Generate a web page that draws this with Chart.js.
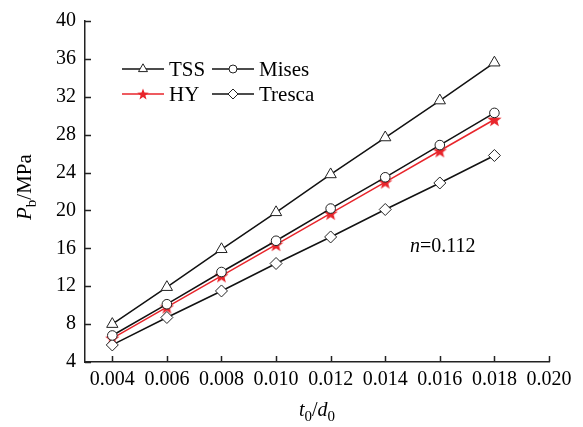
<!DOCTYPE html>
<html>
<head>
<meta charset="utf-8">
<script src="https://cdn.jsdelivr.net/npm/chart.js@4.4.0/dist/chart.umd.min.js"></script>
<style>
  html, body { margin: 0; padding: 0; background: #fff; }
  #wrap { width: 583px; height: 427px; position: relative; }
</style>
</head>
<body>
<div id="wrap"><canvas id="myChart" width="583" height="427"></canvas></div>
<script>
// data
const ratios = [0.004, 0.006, 0.008, 0.010, 0.012, 0.014, 0.016, 0.018];
const tss    = [8.0, 11.9, 15.9, 19.8, 23.8, 27.7, 31.6, 35.6];
const mises  = [6.8, 10.1, 13.5, 16.8, 20.2, 23.5, 26.9, 30.3];
const hy     = [6.5, 9.8, 13.1, 16.4, 19.7, 23.0, 26.3, 29.6];
const tresca = [5.8, 8.7, 11.5, 14.4, 17.2, 20.1, 22.9, 25.8];
const xTicks = [0.004, 0.006, 0.008, 0.010, 0.012, 0.014, 0.016, 0.018, 0.020];

const FONT = "'Liberation Serif', 'Times New Roman', serif";
const RED = '#e8252b';

// filled star marker for HY
function makeStar(size, color) {
  const c = document.createElement('canvas');
  c.width = size; c.height = size;
  const g = c.getContext('2d');
  const cx = size / 2, cy = size / 2 + 0.6;
  const ro = size / 2, ri = ro * 0.42;
  g.beginPath();
  for (let i = 0; i < 10; i++) {
    const r = i % 2 === 0 ? ro : ri;
    const a = -Math.PI / 2 + i * Math.PI / 5;
    g.lineTo(cx + r * Math.cos(a), cy + r * Math.sin(a));
  }
  g.closePath();
  g.fillStyle = color;
  g.fill();
  return c;
}
const starImg = makeStar(15, RED);
const starSmall = makeStar(12, RED);

function pts(ys) {
  return ratios.map((x, i) => ({ x: x, y: ys[i] }));
}

const datasets = [
  { label: 'TSS', data: pts(tss), borderColor: '#111', pointStyle: 'triangle', pointRadius: 6.5, legR: 5.2 },
  { label: 'Mises', data: pts(mises), borderColor: '#111', pointStyle: 'circle', pointRadius: 4.8, legR: 4 },
  { label: 'Tresca', data: pts(tresca), borderColor: '#111', pointStyle: 'rectRot', pointRadius: 6, legR: 5 },
  { label: 'HY', data: pts(hy), borderColor: RED, pointStyle: starImg, pointRadius: 7, legStyle: starSmall, legR: 6 }
].map(d => Object.assign({
  borderWidth: 1.5,
  backgroundColor: '#fff',
  pointBackgroundColor: '#fff',
  pointBorderColor: '#222',
  pointBorderWidth: 1,
  tension: 0,
  fill: false
}, d));

// inward tick marks
const innerTicks = {
  id: 'innerTicks',
  afterDraw(chart) {
    const ctx = chart.ctx, xs = chart.scales.x, ys = chart.scales.y;
    const a = chart.chartArea;
    ctx.save();
    ctx.strokeStyle = '#222';
    ctx.lineWidth = 1.5;
    ctx.beginPath();
    xTicks.forEach(v => {
      const px = Math.round(xs.getPixelForValue(v)) + 0.5;
      ctx.moveTo(px, a.bottom);
      ctx.lineTo(px, a.bottom - 6);
    });
    ys.ticks.forEach(t => {
      const py = Math.round(ys.getPixelForValue(t.value)) + 0.5;
      ctx.moveTo(a.left, py);
      ctx.lineTo(a.left + 6, py);
    });
    ctx.stroke();
    ctx.restore();
  }
};

// legend in 2x2 grid, axis titles and annotation
const extras = {
  id: 'extras',
  afterDraw(chart) {
    const ctx = chart.ctx;
    const H = Chart.helpers;
    ctx.save();
    const items = [
      { ds: 0, x: 122, y: 69 },
      { ds: 1, x: 212, y: 69 },
      { ds: 3, x: 122, y: 94 },
      { ds: 2, x: 212, y: 94 }
    ];
    items.forEach(it => {
      const d = chart.data.datasets[it.ds];
      ctx.strokeStyle = d.borderColor;
      ctx.lineWidth = 1.5;
      ctx.beginPath();
      ctx.moveTo(it.x, it.y);
      ctx.lineTo(it.x + 42, it.y);
      ctx.stroke();
      ctx.fillStyle = '#fff';
      ctx.strokeStyle = '#222';
      ctx.lineWidth = 1;
      H.drawPoint(ctx, { pointStyle: d.legStyle || d.pointStyle, radius: d.legR, rotation: 0, borderWidth: 1 }, it.x + 21, it.y);
      ctx.fillStyle = '#000';
      ctx.font = '21px ' + FONT;
      ctx.textBaseline = 'middle';
      ctx.textAlign = 'left';
      ctx.fillText(d.label, it.x + 47, it.y + 1);
    });

    // annotation n=0.112
    ctx.fillStyle = '#000';
    ctx.textBaseline = 'middle';
    ctx.font = 'italic 20px ' + FONT;
    ctx.fillText('n', 410, 247);
    const nw = ctx.measureText('n').width;
    ctx.font = '20px ' + FONT;
    ctx.fillText('=0.112', 410 + nw, 247);

    // x axis title t0/d0
    let x = 299, y = 410;
    ctx.textBaseline = 'alphabetic';
    const parts = [
      ['italic 20px ', 't', 0], ['15px ', '0', 5], ['20px ', '/', 0],
      ['italic 20px ', 'd', 0], ['15px ', '0', 5]
    ];
    parts.forEach(p => {
      ctx.font = p[0] + FONT;
      ctx.fillText(p[1], x, y + 6 + p[2]);
      x += ctx.measureText(p[1]).width;
    });

    // y axis title Pb/MPa (rotated)
    ctx.translate(31, 220);
    ctx.rotate(-Math.PI / 2);
    x = 0;
    const yp = [
      ['italic 21px ', 'P', 0], ['15px ', 'b', 5], ['21px ', '/MPa', 0]
    ];
    yp.forEach(p => {
      ctx.font = p[0] + FONT;
      ctx.fillText(p[1], x, p[2]);
      x += ctx.measureText(p[1]).width;
    });
    ctx.restore();
  }
};

new Chart(document.getElementById('myChart'), {
  type: 'line',
  data: { datasets: datasets },
  options: {
    responsive: false,
    animation: false,
    layout: { padding: { left: 0, top: 20, right: 34, bottom: 0 } },
    plugins: { legend: { display: false }, tooltip: { enabled: false } },
    scales: {
      x: {
        type: 'linear',
        min: 0.003,
        max: 0.020,
        afterBuildTicks: s => { s.ticks = xTicks.map(v => ({ value: v })); },
        afterFit: s => { s.height = 65; },
        grid: { display: false, drawTicks: false },
        border: { display: true, color: '#222', width: 1.5 },
        ticks: {
          color: '#000',
          font: { family: FONT, size: 20 },
          padding: 6,
          maxRotation: 0,
          autoSkip: false,
          callback: v => Number(v).toFixed(3)
        }
      },
      y: {
        min: 4,
        max: 40,
        afterFit: s => { s.width = 85; },
        grid: { display: false, drawTicks: false },
        border: { display: true, color: '#222', width: 1.5 },
        ticks: {
          stepSize: 4,
          color: '#000',
          font: { family: FONT, size: 20 },
          padding: 9
        }
      }
    }
  },
  plugins: [innerTicks, extras]
});
</script>
</body>
</html>
